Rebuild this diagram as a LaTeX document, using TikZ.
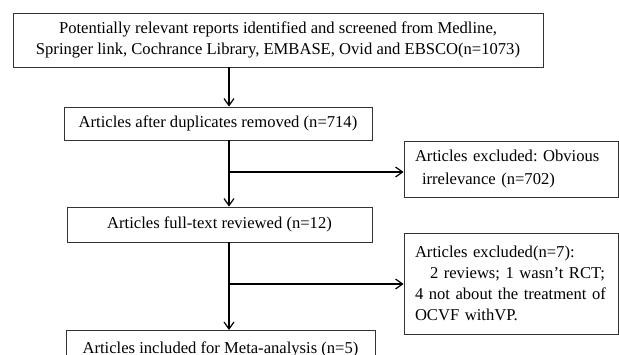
\documentclass[tikz,border=0pt]{standalone}
\usepackage{fontspec}
\setmainfont{Liberation Serif}
\usetikzlibrary{arrows.meta}
\frenchspacing
\begin{document}
\begin{tikzpicture}[x=1pt,y=-1pt,
  box/.style={draw=black!80, line width=0.9pt, inner sep=0pt, text=black,
    font=\fontsize{16.6}{21}\selectfont},
  lbox/.style={box, align=left, inner xsep=11pt},
  arr/.style={line width=1.2pt, -{Straight Barb[length=7pt,width=10pt,line width=1.2pt]}},
  ln/.style={line width=1.2pt}]
\useasboundingbox (0,0) rectangle (619,354);
\node[box, minimum width=530pt, minimum height=54pt, align=center] (src) at (278,40)
  {Potentially relevant reports identified and screened from Medline,\\Springer link, Cochrance Library, EMBASE, Ovid and EBSCO(n=1073)};
\node[box, minimum width=308pt, minimum height=33pt] (dup) at (218,123.5)
  {Articles after duplicates removed (n=714)};
\node[box, minimum width=305pt, minimum height=35pt] (full) at (219.5,224.5)
  {Articles full-text reviewed (n=12)};
\node[box, minimum width=309pt, minimum height=38pt, anchor=north] (incl) at (220.5,330)
  {Articles included for Meta-analysis (n=5)};
\node[lbox, text width=192pt, minimum height=56pt, font=\fontsize{16.6}{23}\selectfont] (ex1) at (511,169)
  {Articles excluded: Obvious\\\hspace*{7pt}irrelevance (n=702)};
\node[lbox, text width=192pt, minimum height=101pt] (ex2) at (511,283.5)
  {Articles excluded(n=7):\\\hspace*{15pt}2 reviews; 1 wasn't RCT;\\4 not about the treatment of\\OCVF withVP.};
\coordinate (j1) at (229,172);
\coordinate (j2) at (229,284);
\draw[arr] (src.south -| j1) -- (dup.north -| j1);
\draw[arr] (dup.south -| j1) -- (full.north -| j1);
\draw[arr] (j1) -- (ex1.west |- j1);
\draw[arr] (full.south -| j2) -- (incl.north -| j2);
\draw[arr] (j2) -- (ex2.west |- j2);
\end{tikzpicture}
\end{document}
